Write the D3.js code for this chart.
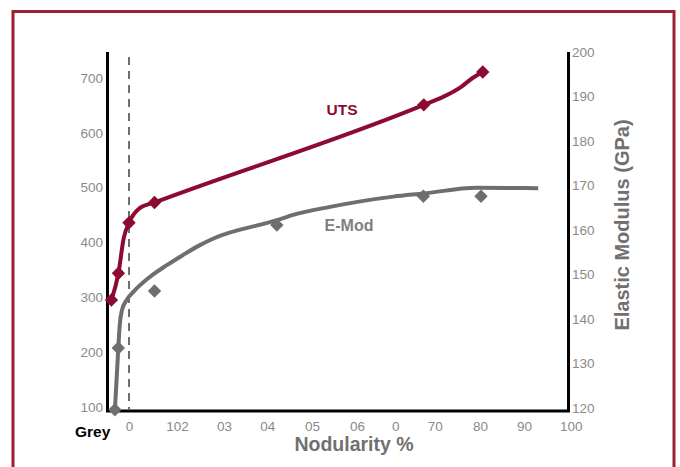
<!DOCTYPE html>
<html><head><meta charset="utf-8">
<script src="https://cdn.jsdelivr.net/npm/d3@7"></script>
<style>body{margin:0;background:#fff} svg{display:block;font-family:"Liberation Sans",Arial,sans-serif}</style>
</head><body><svg id="c" width="680" height="467"></svg>
<script>
// ---- data ----
const xTickValues = [0, 10.9, 21.6, 31.4, 41.6, 51.8, 60.5, 69.5, 79.8, 89.8, 100.4];
const xTickLabels = ["0", "102", "03", "04", "05", "06", "0", "70", "80", "90", "100"];
const leftTicks = [100, 200, 300, 400, 500, 600, 700];
const rightTicks = [120, 130, 140, 150, 160, 170, 180, 190, 200];

const utsX = [-4, -2.4, 0, 5.8, 67, 80.4];
const utsY = [295, 344, 436, 473, 651, 711];
const utsLineX = [-4, -2.4, -1.2, 0, 2.5, 5.8, 67, 71.5, 75.5, 78, 80.4];
const utsLineY = [295, 344, 408, 436, 463, 473, 651, 666, 684, 699.5, 711];

const emodX = [-3.2, -2.43, 5.8, 33.6, 66.9, 80];
const emodY = [119.6, 133.5, 146.3, 161.1, 167.6, 167.6];
const emodLineX = [-3.2, -2.43, -2.1, -1.6, -0.5, 1.0, 4.8, 8.6, 12.3, 16.1, 19.2, 33.6, 37.3, 45.7, 60.1, 66.9, 79.0, 93];
const emodLineY = [119.6, 133.5, 138.7, 142, 144.3, 146.1, 149.5, 152.1, 154.4, 156.6, 158.1, 162.2, 163.4, 165.2, 167.5, 168.2, 169.5, 169.4];

// ---- styles ----
const RED = "#8c0b30", GREY = "#6e6e6e", TICK = "#8a8a8a", TITLE = "#707070";
const L = 107.5, R = 568.5, T = 52, B = 411;

const svg = d3.select("#c");
svg.append("rect").attr("x", 13).attr("y", 11.5).attr("width", 661).attr("height", 480)
  .attr("fill", "none").attr("stroke", "#9e1e32").attr("stroke-width", 3);

const x = d3.scaleLinear().domain([-5, 100]).range([L - 0.5, R + 0.5]);
const yL = d3.scaleLinear().domain([100, 700]).range([407, 78]);
const yR = d3.scaleLinear().domain([120, 200]).range([408, 52]);

// axes labels via d3 axes
const gl = svg.append("g").attr("transform", `translate(${L},0)`)
  .call(d3.axisLeft(yL).tickValues(leftTicks).tickSize(0).tickPadding(4.5));
const gr = svg.append("g").attr("transform", `translate(${R},0)`)
  .call(d3.axisRight(yR).tickValues(rightTicks).tickSize(0).tickPadding(3.5));
const gb = svg.append("g").attr("transform", `translate(0,${B})`)
  .call(d3.axisBottom(x).tickValues(xTickValues).tickSize(0).tickPadding(10)
    .tickFormat((d, i) => xTickLabels[i]));
[gl, gr, gb].forEach(g => {
  g.select(".domain").remove();
  g.selectAll("text").attr("fill", TICK).style("font-size", "13.5px")
    .style("font-family", '"Liberation Sans",Arial,sans-serif');
});

// axis lines
svg.append("path").attr("d", `M${L},${T}V${B}H${R}V${T}`)
  .attr("fill", "none").attr("stroke", "#000").attr("stroke-width", 3);

// dashed zero line
svg.append("line").attr("x1", x(0)).attr("x2", x(0)).attr("y1", 57).attr("y2", B - 1.5)
  .attr("stroke", GREY).attr("stroke-width", 2).attr("stroke-dasharray", "8,6");

// lines
const utsLine = d3.line().x(d => x(d[0])).y(d => yL(d[1])).curve(d3.curveMonotoneX);
const emodLine = d3.line().x(d => x(d[0])).y(d => yR(d[1])).curve(d3.curveMonotoneX);

svg.append("path").datum(emodLineX.map((v, i) => [v, emodLineY[i]]))
  .attr("d", emodLine).attr("fill", "none").attr("stroke", GREY).attr("stroke-width", 4)
  .attr("stroke-linejoin", "round");
svg.append("path").datum(utsLineX.map((v, i) => [v, utsLineY[i]]))
  .attr("d", utsLine).attr("fill", "none").attr("stroke", RED).attr("stroke-width", 4)
  .attr("stroke-linejoin", "round");

const sym = d3.symbol(d3.symbolSquare, 90);
svg.append("g").selectAll("path").data(emodX.map((v, i) => [v, emodY[i]])).join("path")
  .attr("d", sym).attr("fill", GREY)
  .attr("transform", d => `translate(${x(d[0])},${yR(d[1])}) rotate(45)`);
svg.append("g").selectAll("path").data(utsX.map((v, i) => [v, utsY[i]])).join("path")
  .attr("d", sym).attr("fill", RED)
  .attr("transform", d => `translate(${x(d[0])},${yL(d[1])}) rotate(45)`);

// texts
svg.append("text").attr("x", 342).attr("y", 115).attr("text-anchor", "middle")
  .attr("fill", RED).style("font-weight", "bold").style("font-size", "15.5px").text("UTS");
svg.append("text").attr("x", 349).attr("y", 230.5).attr("text-anchor", "middle")
  .attr("fill", "#808080").style("font-weight", "bold").style("font-size", "16px").text("E-Mod");
svg.append("text").attr("x", 75).attr("y", 437).attr("fill", "#000")
  .style("font-weight", "bold").style("font-size", "15.5px").text("Grey");
svg.append("text").attr("x", 354).attr("y", 451).attr("text-anchor", "middle")
  .attr("fill", TITLE).style("font-weight", "bold").style("font-size", "19.5px").text("Nodularity %");
svg.append("text").attr("transform", "translate(629,225) rotate(-90)").attr("text-anchor", "middle")
  .attr("fill", TITLE).style("font-weight", "bold").style("font-size", "20px").text("Elastic Modulus (GPa)");
</script>
</body></html>
